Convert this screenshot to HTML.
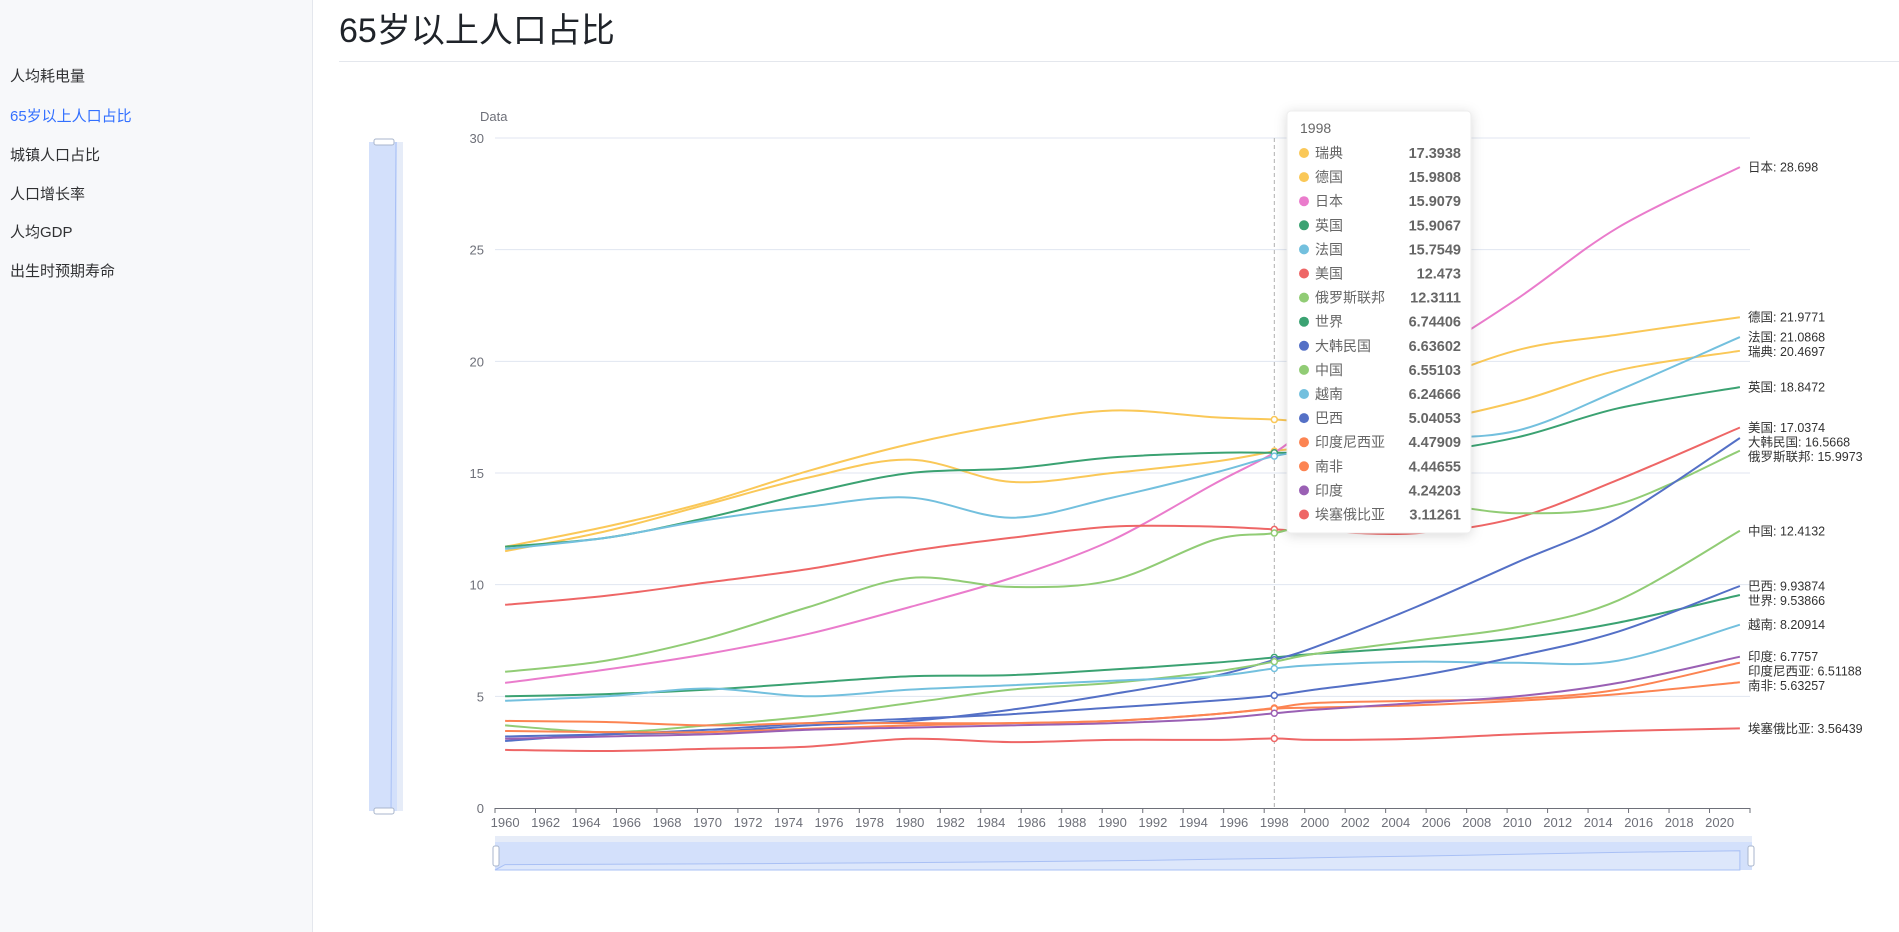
<!DOCTYPE html>
<html><head><meta charset="utf-8">
<style>
html,body{margin:0;padding:0;width:1899px;height:932px;overflow:hidden;background:#fff;font-family:"Liberation Sans","Noto Sans CJK SC",sans-serif;}
#side{position:absolute;left:0;top:0;width:312px;height:932px;background:#f7f8fa;border-right:1px solid #e4e7ed;}
.nav{position:absolute;left:10px;font-size:15px;color:#303133;line-height:18px;}
.nav.active{color:#3370ff;}
#title{position:absolute;left:339px;top:9px;font-size:34px;color:#1f2329;line-height:44px;}
#hr{position:absolute;left:339px;top:61px;width:1560px;height:1px;background:#e4e7ed;}
svg{position:absolute;left:0;top:0;}
</style></head>
<body>
<div id="side">
<div class="nav" style="top:68px">人均耗电量</div>
<div class="nav active" style="top:108px">65岁以上人口占比</div>
<div class="nav" style="top:147px">城镇人口占比</div>
<div class="nav" style="top:186px">人口增长率</div>
<div class="nav" style="top:224px">人均GDP</div>
<div class="nav" style="top:263px">出生时预期寿命</div>
</div>
<div id="title">65岁以上人口占比</div>
<div id="hr"></div>
<svg id="chart" width="1899" height="932"></svg>
<script>
const years = [1960,1965,1970,1975,1980,1985,1990,1995,1998,2000,2005,2010,2015,2021];
const seriesNames = ["瑞典","德国","日本","英国","法国","美国","俄罗斯联邦","世界","大韩民国","中国","越南","巴西","印度尼西亚","南非","印度","埃塞俄比亚"];
const seriesColors = ["#fac858","#fac858","#ea7ccc","#3ba272","#73c0de","#ee6666","#91cc75","#3ba272","#5470c6","#91cc75","#73c0de","#5470c6","#fc8452","#fc8452","#9a60b4","#ee6666"];
const sweden = [11.7,12.6,13.7,15.1,16.3,17.2,17.8,17.5,17.3938,17.3,17.3,18.2,19.6,20.4697];
const germany = [11.5,12.4,13.6,14.8,15.6,14.6,15.0,15.5,15.9808,16.4,18.8,20.5,21.2,21.9771];
const japan = [5.6,6.2,6.9,7.8,9.0,10.3,12.0,14.5,15.9079,17.2,19.9,22.8,26.0,28.698];
const uk = [11.7,12.1,13.0,14.1,15.0,15.2,15.7,15.9,15.9067,15.9,15.9,16.6,17.9,18.8472];
const france = [11.6,12.1,12.9,13.5,13.9,13.0,13.9,15.0,15.7549,16.0,16.5,16.9,18.7,21.0868];
const usa = [9.1,9.5,10.1,10.7,11.5,12.1,12.6,12.6,12.473,12.4,12.3,13.0,14.7,17.0374];
const russia = [6.1,6.6,7.6,9.0,10.3,9.9,10.2,12.0,12.3111,12.8,13.6,13.2,13.6,15.9973];
const world = [5.0,5.1,5.3,5.6,5.9,5.95,6.2,6.5,6.74406,6.9,7.2,7.6,8.3,9.53866];
const korea = [3.0,3.3,3.4,3.7,3.9,4.4,5.1,5.9,6.63602,7.2,9.0,11.0,13.0,16.5668];
const china = [3.7,3.4,3.7,4.1,4.7,5.3,5.6,6.1,6.55103,6.9,7.5,8.1,9.3,12.4132];
const vietnam = [4.8,5.0,5.35,5.0,5.3,5.5,5.7,5.9,6.24666,6.4,6.55,6.5,6.6,8.20914];
const brazil = [3.2,3.3,3.5,3.8,4.0,4.2,4.5,4.8,5.04053,5.3,5.9,6.8,7.9,9.93874];
const indonesia = [3.45,3.4,3.4,3.55,3.7,3.8,3.9,4.2,4.47909,4.7,4.8,4.9,5.3,6.51188];
const southAfrica = [3.9,3.85,3.7,3.8,3.8,3.8,3.9,4.2,4.44655,4.5,4.6,4.8,5.1,5.63257];
const india = [3.1,3.2,3.3,3.5,3.6,3.7,3.8,4.0,4.24203,4.4,4.7,5.0,5.6,6.7757];
const ethiopia = [2.6,2.55,2.65,2.75,3.1,2.95,3.05,3.05,3.11261,3.05,3.1,3.3,3.45,3.56439];
const seriesValues = [sweden,germany,japan,uk,france,usa,russia,world,korea,china,vietnam,brazil,indonesia,southAfrica,india,ethiopia];
const yTicks = [0,5,10,15,20,25,30];
const hoverYear = 1998;
const firstYear = 1960, lastYear = 2021;

const NS="http://www.w3.org/2000/svg";
const svg=document.getElementById('chart');
const L=495,R=1750,T=138,B=808,yMax=30;
const nCat=lastYear-firstYear+1, band=(R-L)/nCat;
const xs=y=>L+band*(y-firstYear+0.5);
const ys=v=>B-(v/yMax)*(B-T);
function mk(tag,attrs,parent){const e=document.createElementNS(NS,tag);for(const k in attrs)e.setAttribute(k,attrs[k]);(parent||svg).appendChild(e);return e;}
function smooth(pts){let d="M"+pts[0][0].toFixed(1)+","+pts[0][1].toFixed(1);for(let i=0;i<pts.length-1;i++){const p0=pts[i-1]||pts[i],p1=pts[i],p2=pts[i+1],p3=pts[i+2]||p2;const c1=[p1[0]+(p2[0]-p0[0])/6,p1[1]+(p2[1]-p0[1])/6],c2=[p2[0]-(p3[0]-p1[0])/6,p2[1]-(p3[1]-p1[1])/6];d+=" C"+c1[0].toFixed(1)+","+c1[1].toFixed(1)+" "+c2[0].toFixed(1)+","+c2[1].toFixed(1)+" "+p2[0].toFixed(1)+","+p2[1].toFixed(1);}return d;}

yTicks.forEach(v=>{
 const g=mk('line',{x1:L,x2:R,y1:ys(v),y2:ys(v),stroke:v===0?'none':'#e0e6f1','stroke-width':1});
 
 
 const t=mk('text',{x:484,y:ys(v)+5,'text-anchor':'end','font-size':13,fill:'#6e7079'});t.textContent=v;
 
 
});
const yt=mk('text',{x:480,y:121,'font-size':13,fill:'#6e7079'});yt.textContent='Data';


const ax=mk('line',{x1:L,x2:R,y1:B+0.5,y2:B+0.5,stroke:'#6e7079','stroke-width':1});


for(let y=firstYear;y<=lastYear+1;y+=2){
 const xx=L+band*(y-firstYear);
 mk('line',{x1:xx,x2:xx,y1:B,y2:B+5,stroke:'#6e7079'});
 if(y<=lastYear){const t=mk('text',{x:xs(y),y:B+19,'text-anchor':'middle','font-size':13,fill:'#6e7079'});t.textContent=y;
 
 }
}
mk('line',{x1:R,x2:R,y1:B,y2:B+5,stroke:'#6e7079'});
const hl=mk('line',{x1:xs(hoverYear),x2:xs(hoverYear),y1:T,y2:B,stroke:'#b0b0b0','stroke-dasharray':'4,3','stroke-width':1});


const hi=years.indexOf(hoverYear);
const ends=[];
seriesValues.forEach((vals,i)=>{
 const pts=vals.map((v,j)=>[xs(years[j]),ys(v)]);
 const p=mk('path',{d:smooth(pts),fill:'none',stroke:seriesColors[i],'stroke-width':2});
 
 
 if(hi>=0){const c=mk('circle',{cx:xs(hoverYear),cy:ys(vals[hi]),r:3,fill:'#fff',stroke:seriesColors[i],'stroke-width':1.5});
 
 }
 ends.push({i,y:ys(vals[vals.length-1]),v:vals[vals.length-1]});
});
ends.sort((a,b)=>a.y-b.y);
for(let k=1;k<ends.length;k++){if(ends[k].y-ends[k-1].y<14.5)ends[k].y=ends[k-1].y+14.5;}
ends.forEach(e=>{const t=mk('text',{x:R-2,y:e.y+4.5,'font-size':12.5,fill:'#333'});t.textContent=seriesNames[e.i]+': '+e.v;
 
 });
const vz=mk('g',{});
mk('rect',{x:369,y:142,width:34,height:669,fill:'#e6ecf8'},vz);
mk('rect',{x:369,y:142,width:28,height:669,fill:'#d3e0fb'},vz);
mk('path',{d:'M396,142 L391,811',stroke:'#a9c0f5',fill:'none'},vz);
mk('rect',{x:374,y:139,width:20,height:6,rx:2,fill:'#fff',stroke:'#a9b6cc'},vz);
mk('rect',{x:374,y:808,width:20,height:6,rx:2,fill:'#fff',stroke:'#a9b6cc'},vz);
const hz=mk('g',{});
mk('rect',{x:495,y:836,width:1257,height:34,fill:'#e6ecf8'},hz);
mk('rect',{x:495,y:842,width:1257,height:28,fill:'#d3e0fb'},hz);
const shadow=japan.map((v,j)=>[xs(years[j]),868-v*0.6]);
mk('path',{d:smooth(shadow)+' L'+xs(lastYear)+',870 L'+L+',870 Z',fill:'#dde7fb',stroke:'#a9c0f5'},hz);
mk('rect',{x:493,y:846,width:6,height:20,rx:2,fill:'#fff',stroke:'#a9b6cc'},hz);
mk('rect',{x:1748,y:846,width:6,height:20,rx:2,fill:'#fff',stroke:'#a9b6cc'},hz);
const tg=mk('g',{});
mk('rect',{x:1287,y:111,width:184,height:422,rx:4,fill:'#fff',stroke:'#eee',style:'filter:drop-shadow(0 2px 6px rgba(0,0,0,0.15))'},tg);
const tt=mk('text',{x:1300,y:133,'font-size':14,fill:'#666'},tg);tt.textContent=hoverYear;
const order=seriesValues.map((v,i)=>i).sort((a,b)=>seriesValues[b][hi]-seriesValues[a][hi]);
order.forEach((i,k)=>{const yy=153+k*24.1;
 mk('circle',{cx:1304,cy:yy,r:5,fill:seriesColors[i]},tg);
 const n=mk('text',{x:1315,y:yy+5,'font-size':14,fill:'#666'},tg);n.textContent=seriesNames[i];
 
 
 const v=mk('text',{x:1461,y:yy+5,'font-size':14.5,'font-weight':'bold','text-anchor':'end',fill:'#666'},tg);v.textContent=seriesValues[i][hi];
 
 
});
</script>
</body></html>
